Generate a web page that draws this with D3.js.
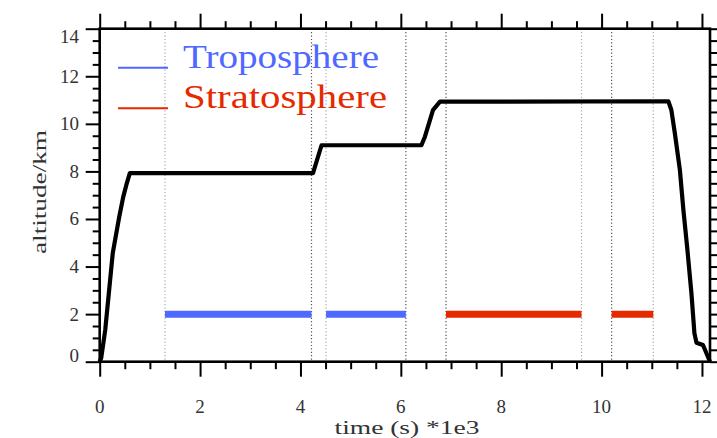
<!DOCTYPE html>
<html><head><meta charset="utf-8">
<script src="https://cdn.jsdelivr.net/npm/d3@7"></script>
<style>html,body{margin:0;padding:0;background:#fff;overflow:hidden}</style>
</head><body>
<svg id="c" width="717" height="438"></svg>
<script>
// ---- data (time in units of 1e3 s, altitude in km) ----
const flightTime = [0, 0.03, 0.11, 0.26, 0.39, 0.47, 0.54, 0.60, 4.22, 4.25, 4.42, 6.41, 6.48, 6.58, 6.64, 6.78, 11.33, 11.39, 11.46, 11.56, 11.63, 11.71, 11.79, 11.85, 11.89, 12.02, 12.16];
const flightAlt  = [0, 0.16, 1.33, 4.56, 6.10, 6.94, 7.50, 7.93, 7.93, 7.93, 9.10, 9.10, 9.46, 10.16, 10.58, 10.93, 10.95, 10.58, 9.60, 8.06, 6.38, 4.70, 2.88, 1.19, 0.80, 0.70, 0.00];
const tropoStart = [1.30, 4.51];
const tropoEnd   = [4.22, 6.10];
const stratoStart = [6.90, 10.20];
const stratoEnd   = [9.60, 11.03];
const segmentAlt = 2;
const markerTimes = [1.30, 4.22, 4.51, 6.10, 6.90, 9.60, 10.20, 11.03];
const xTickLabels = [0, 2, 4, 6, 8, 10, 12];
const yTickLabels = [0, 2, 4, 6, 8, 10, 12, 14];
const legendNames = ["Troposphere", "Stratosphere"];
const xTitle = "time (s) *1e3";
const yTitle = "altitude/km";

// ---- styling ----
const BLUE = "#4f68ff", RED = "#e52a00";
const darkMarkers = new Set([4.22, 6.10, 6.90, 10.20]);
const FONT = "'Liberation Serif', 'DejaVu Serif', serif";

const svg = d3.select("#c");
const x = d3.scaleLinear().domain([0, 12.16]).range([99.7, 710]);
const y = d3.scaleLinear().domain([0, 14]).range([361.7, 28.7]);

function txt(px, py, str, size, anchor, color, opts) {
  opts = opts || {};
  const g = svg.append("g").attr("transform",
    `translate(${px},${py})` + (opts.rotate ? ` rotate(${opts.rotate})` : ""));
  const t = g.append("text").attr("x", 0).attr("y", 0)
    .attr("font-family", FONT).attr("font-size", size)
    .attr("text-anchor", anchor).attr("fill", color).text(str);
  if (opts.len) t.attr("textLength", opts.len).attr("lengthAdjust", "spacingAndGlyphs");
  return g;
}

// vertical dotted marker lines
svg.append("g").selectAll("line").data(markerTimes).join("line")
  .attr("x1", d => x(d)).attr("x2", d => x(d))
  .attr("y1", y(14)).attr("y2", y(0))
  .attr("stroke", d => darkMarkers.has(d) ? "#555" : "#aaa")
  .attr("stroke-width", 1.2)
  .attr("stroke-dasharray", "1.2,2.2");

// segment bars
const tropo = tropoStart.map((s, i) => [s, tropoEnd[i]]);
const strato = stratoStart.map((s, i) => [s, stratoEnd[i]]);
svg.append("g").selectAll("line").data(tropo).join("line")
  .attr("x1", d => x(d[0])).attr("x2", d => x(d[1]))
  .attr("y1", y(segmentAlt)).attr("y2", y(segmentAlt))
  .attr("stroke", BLUE).attr("stroke-width", 7);
svg.append("g").selectAll("line").data(strato).join("line")
  .attr("x1", d => x(d[0])).attr("x2", d => x(d[1]))
  .attr("y1", y(segmentAlt)).attr("y2", y(segmentAlt))
  .attr("stroke", RED).attr("stroke-width", 7);

// flight profile
const pts = flightTime.map((t, i) => [t, flightAlt[i]]);
svg.append("path").datum(pts)
  .attr("d", d3.line().x(d => x(d[0])).y(d => y(d[1])))
  .attr("fill", "none").attr("stroke", "#000").attr("stroke-width", 4.2)
  .attr("stroke-linejoin", "round");

// axes ticks (all four sides, outward)
const xMajor = d3.range(0, 12.01, 2), xMinor = d3.range(0, 12.01, 0.5).filter(v => v % 2 !== 0);
const yMajor = d3.range(0, 14.01, 2), yMinor = d3.range(0, 14.01, 0.5).filter(v => v % 2 !== 0);
function addAxis(axisFn, scale, vals, size, transform) {
  const g = svg.append("g").attr("transform", transform)
    .call(axisFn(scale).tickValues(vals).tickSize(size).tickFormat(""));
  g.select(".domain").remove();
  g.selectAll(".tick line").attr("stroke", "#000").attr("stroke-width", 2);
}
addAxis(d3.axisBottom, x, xMajor, 15, `translate(0,${y(0)})`);
addAxis(d3.axisBottom, x, xMinor, 7.5, `translate(0,${y(0)})`);
addAxis(d3.axisTop, x, xMajor, 15, `translate(0,${y(14)})`);
addAxis(d3.axisTop, x, xMinor, 7.5, `translate(0,${y(14)})`);
addAxis(d3.axisLeft, y, yMajor, 14, `translate(${x(0)},0)`);
addAxis(d3.axisLeft, y, yMinor, 7, `translate(${x(0)},0)`);
addAxis(d3.axisRight, y, yMajor, 14, `translate(${x.range()[1]},0)`);
addAxis(d3.axisRight, y, yMinor, 7, `translate(${x.range()[1]},0)`);

// frame
svg.append("rect").attr("x", x(0)).attr("y", y(14))
  .attr("width", x.range()[1] - x(0)).attr("height", y(0) - y(14))
  .attr("fill", "none").attr("stroke", "#000").attr("stroke-width", 2.6);

// tick labels
const TXT = "#333";
xTickLabels.forEach(v => txt(x(v), 413, String(v), 19, "middle", TXT));
yTickLabels.forEach(v => {
  const off = v === 14 ? 8 : (v === 0 ? -6 : 0);
  txt(79, y(v) + off + 6.5, String(v), 19, "end", TXT);
});

// axis titles
txt(407, 434, xTitle, 19, "middle", TXT, {len: 145});
txt(46, 192, yTitle, 19, "middle", TXT, {rotate: -90, len: 124});

// legend
const legendColors = [BLUE, RED];
const legendY = [67.7, 108.3];
const legendLen = [196, 204];
legendNames.forEach((n, i) => {
  svg.append("line").attr("x1", 118).attr("x2", 168)
    .attr("y1", legendY[i]).attr("y2", legendY[i])
    .attr("stroke", legendColors[i]).attr("stroke-width", 2);
  txt(183, legendY[i], n, 33, "start", legendColors[i], {len: legendLen[i]});
});
</script>
</body></html>
